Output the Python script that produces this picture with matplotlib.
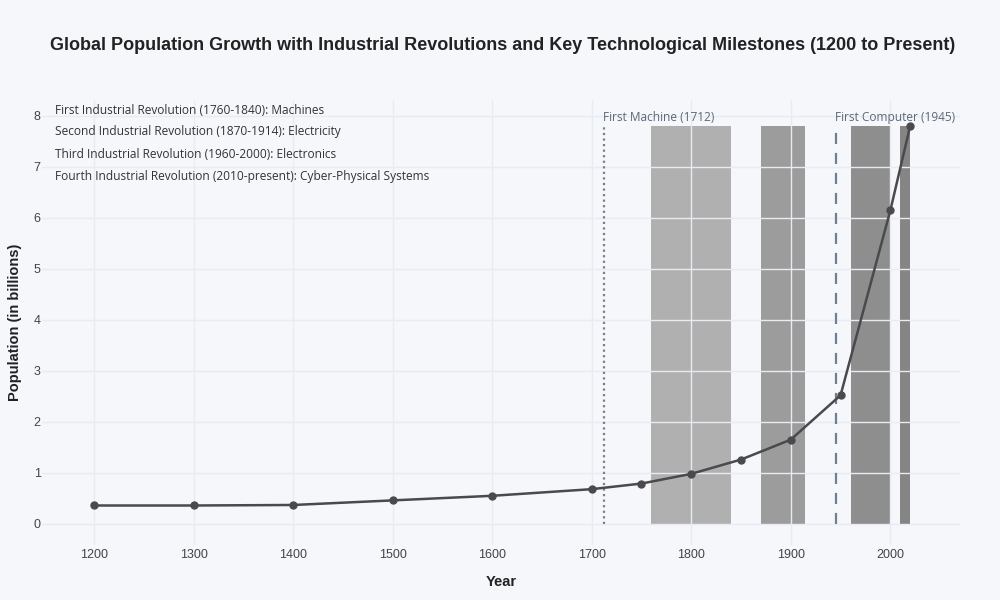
import matplotlib
matplotlib.use("Agg")
import matplotlib.pyplot as plt

# Population data (billions)
years = [1200, 1300, 1400, 1500, 1600, 1700, 1750, 1800, 1850, 1900, 1950, 2000, 2020]
population = [0.36, 0.36, 0.37, 0.46, 0.55, 0.68, 0.79, 0.98, 1.26, 1.65, 2.52, 6.14, 7.8]

# Industrial revolutions: start, end, label
rev_starts = [1760, 1870, 1960, 2010]
rev_ends = [1840, 1914, 2000, 2020]
rev_labels = [
    "First Industrial Revolution (1760-1840): Machines",
    "Second Industrial Revolution (1870-1914): Electricity",
    "Third Industrial Revolution (1960-2000): Electronics",
    "Fourth Industrial Revolution (2010-present): Cyber-Physical Systems",
]
rev_colors = ["#b0b0b0", "#9c9c9c", "#8e8e8e", "#858585"]

milestone_years = [1712, 1945]
milestone_labels = ["First Machine (1712)", "First Computer (1945)"]

bg = "#f5f7fb"
fig = plt.figure(figsize=(10, 6), dpi=100, facecolor=bg)
ax = fig.add_axes([0.042, 0.092, 0.918, 0.741], facecolor=bg)

# Revolution shading, drawn beneath the grid
for s, e, c in zip(rev_starts, rev_ends, rev_colors):
    ax.bar(s, max(population), width=e - s, align="edge", color=c, zorder=0)

# grid lines over the shading, like the reference
for yv in range(0, 9):
    ax.axhline(yv, color="#e8ebf2", linewidth=1, zorder=1)
for xv in range(1200, 2001, 100):
    ax.axvline(xv, color="#e8ebf2", linewidth=1, zorder=1)

# Milestone lines
ax.plot([milestone_years[0]] * 2, [0, max(population)], color="#7a7f88",
        linestyle=(0, (1, 1.5)), linewidth=1.6, zorder=2)
ax.plot([milestone_years[1]] * 2, [0, max(population)], color="#708090",
        linestyle=(0, (5, 4)), linewidth=1.6, zorder=2)
for yr, lab in zip(milestone_years, milestone_labels):
    ax.text(yr - 1, max(population) + 0.03, lab, fontsize=8.6, color="#5c6878",
            family="Open Sans", ha="left", va="bottom", zorder=4)

# Population line
ax.plot(years, population, color="#4a4a4e", linewidth=1.8, marker="o",
        markersize=5, zorder=3)

ax.set_xlim(1147.7, 2070)
ax.set_ylim(-0.41, 8.3)
ax.set_xticks(range(1200, 2001, 100))
ax.set_yticks(range(0, 9))
ax.tick_params(length=0, labelsize=9, colors="#444444")
ax.tick_params(axis="x", pad=3)
ax.tick_params(axis="y", pad=1)
for lbl in ax.get_xticklabels() + ax.get_yticklabels():
    lbl.set_family("Liberation Sans")
for sp in ax.spines.values():
    sp.set_visible(False)

# Revolution descriptions
ys = [110, 132, 155, 177]
for yp, lab in zip(ys, rev_labels):
    fig.text(0.055, 1 - yp / 600, lab, fontsize=8.6, color="#333333",
             family="Open Sans", ha="left", va="center")

ax.set_xlabel("Year", fontsize=10.5, fontweight="bold", family="Liberation Sans",
              labelpad=10, color="#222222")
ax.set_ylabel("Population (in billions)", fontsize=10.5, fontweight="bold",
              family="Liberation Sans", labelpad=8, color="#222222")
fig.text(0.503, 1 - 45 / 600,
         "Global Population Growth with Industrial Revolutions and Key Technological Milestones (1200 to Present)",
         fontsize=13, fontweight="bold", family="Liberation Sans", ha="center",
         va="center", color="#222222")

fig.savefig("out.png", dpi=100, facecolor=bg)
